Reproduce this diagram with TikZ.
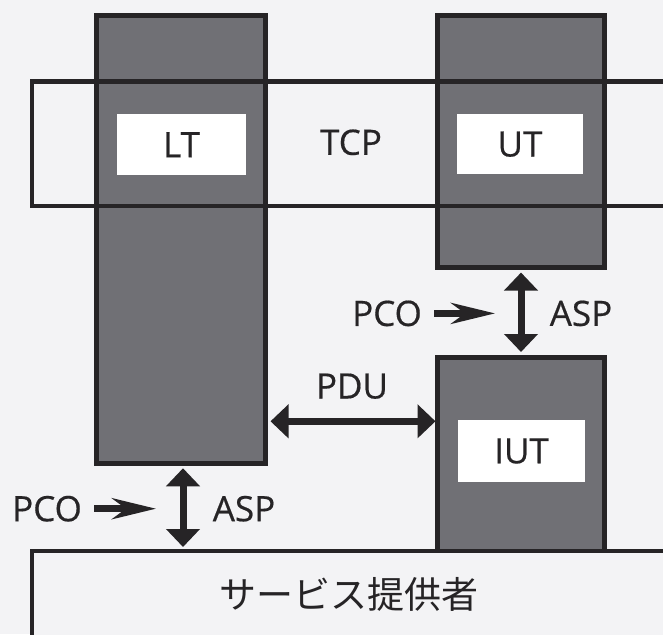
\documentclass[tikz,border=0pt]{standalone}
\usepackage{fontspec}
\setmainfont{Open Sans}
\newfontfamily\lblfont{Open Sans}[FakeBold=0.5]
\newfontfamily\jpfont{Noto Sans CJK JP}
\usetikzlibrary{arrows.meta}
\definecolor{bgcol}{RGB}{243,243,245}
\definecolor{colgray}{RGB}{112,112,117}
\definecolor{ink}{RGB}{38,36,38}
\begin{document}
\begin{tikzpicture}[x=1pt,y=-1pt,
  col/.style={rectangle, draw=ink, line width=5pt, fill=colgray, inner sep=0pt, outer sep=0pt},
  whitebox/.style={rectangle, fill=white, inner sep=0pt, outer sep=0pt, font=\lblfont\fontsize{35}{38}\selectfont, text=ink},
  lbl/.style={inner sep=0pt, font=\lblfont\fontsize{35}{38}\selectfont, text=ink},
  band/.style={draw=ink, line width=4.5pt},
  dbl/.style={ink, line width=7pt, {Triangle[width=33pt,length=18pt]}-{Triangle[width=33pt,length=18pt]}},
  pcoarrow/.style={ink, line width=6.5pt, -{Stealth[length=44pt,width=21pt,inset=14pt]}}
]
\useasboundingbox (0,0) rectangle (663,634);
\clip (0,0) rectangle (663,634);
\fill[bgcol] (0,0) rectangle (663,634);

% columns
\node[col, minimum width=169pt, minimum height=447.5pt] (LTcol) at (181,239.5) {};
\node[col, minimum width=167pt, minimum height=251.7pt] (UTcol) at (521,141.7) {};
\node[col, minimum width=167pt, minimum height=194pt] (IUTcol) at (521,454) {};

% TCP band
\draw[band] (700,81.5) -- (32,81.5) -- (32,206) -- (700,206);

% white boxes
\node[whitebox, minimum width=129pt, minimum height=60.7pt] (LT) at (181.5,144.7) {LT};
\node[whitebox, minimum width=126pt, minimum height=59.6pt] (UT) at (520,144.2) {UT};
\node[whitebox, minimum width=127pt, minimum height=61.5pt] (IUT) at (521.5,451) {IUT};

% service provider box
\node[rectangle, draw=ink, line width=4.5pt, fill=bgcol, inner sep=0pt, outer sep=0pt,
      minimum width=668pt, minimum height=149pt, anchor=north west] (sp) at (32,551) {};
\node[inner sep=0pt, text=ink, font=\jpfont\fontsize{37}{40}\selectfont] (spt) at (349,594) {サービス提供者};

% labels
\node[lbl] (tcp) at (351,142.3) {TCP};
\node[lbl] (pdu) at (352,386.2) {PDU};
\node[lbl] (pcoU) at (387,313.4) {PCO};
\node[lbl] (aspU) at (581,313.4) {ASP};
\node[lbl] (pcoL) at (47,508.7) {PCO};
\node[lbl] (aspL) at (244,508.7) {ASP};

% arrows
\coordinate (pduy) at (0,421.3);
\draw[dbl, shorten <=5pt, shorten >=2pt] (LTcol.east |- pduy) -- (IUTcol.west |- pduy);
\draw[dbl, shorten <=5pt, shorten >=5pt] (UTcol.south) -- (IUTcol.north);
\coordinate (aspLx) at (183,0);
\draw[dbl, shorten <=5pt, shorten >=4pt] (aspLx |- LTcol.south) -- (aspLx |- sp.north);

\coordinate (pcoUtip) at (495,313.4);
\coordinate (pcoLtip) at (156,508.7);
\draw[pcoarrow, shorten <=12pt] (pcoU.east) -- (pcoUtip);
\draw[pcoarrow, shorten <=12pt] (pcoL.east) -- (pcoLtip);
\end{tikzpicture}
\end{document}
